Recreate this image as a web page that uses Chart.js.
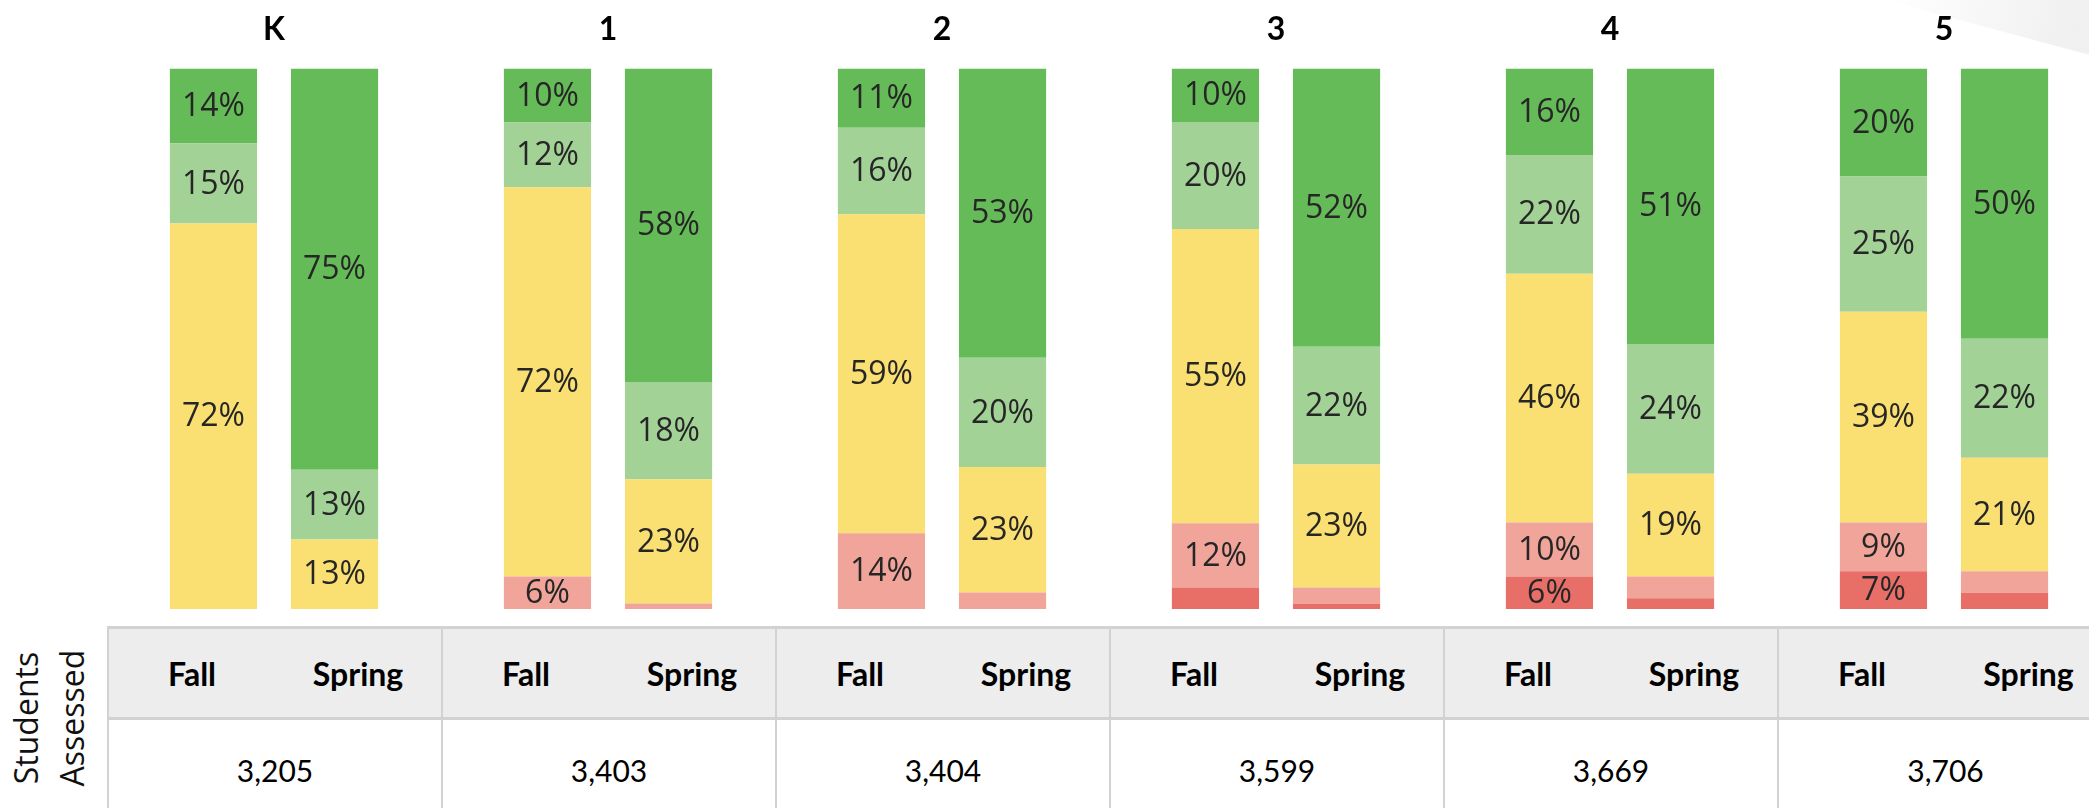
<!DOCTYPE html>
<html>
<head>
<meta charset="utf-8">
<script src="https://cdn.jsdelivr.net/npm/chart.js@4.4.1/dist/chart.umd.min.js"></script>
<style>
  html, body { margin: 0; padding: 0; background: #fff; overflow: hidden; width: 2089px; height: 808px; }
  #wrap { position: absolute; left: 0; top: -10px; width: 2111px; height: 619px; }
  #swoosh { position: absolute; left: 1885px; top: -70px; width: 420px; height: 70px;
    transform-origin: left bottom; transform: rotate(15deg);
    background: linear-gradient(to right, rgba(240,240,240,0), #f0f0f0 45%, #f4f4f4); }
  table.assess { position: absolute; left: 107px; top: 626px; border-collapse: collapse; table-layout: fixed; width: 2004px; }
  table.assess td { padding: 0; text-align: center; color: #000; }
  table.assess tr.head td { background: #ededed; height: 88px; font: bold 32px Lato, sans-serif; border-top: 3px solid #d2d2d2; border-bottom: 3px solid #d2d2d2; }
  table.assess tr.nums td { height: 100px; font: 30px Lato, sans-serif; padding-bottom: 4px; }
  table.assess td.gl { border-left: 2px solid #d2d2d2; }
  #side { position: absolute; left: 49px; top: 718px; transform: translate(-50%, -50%) rotate(-90deg);
    font: 32px "Open Sans", sans-serif; line-height: 46px; text-align: center; color: #111; white-space: nowrap; }
</style>
</head>
<body>
<div id="swoosh"></div>
<div id="wrap"><canvas id="chart" width="2111" height="619"></canvas></div>
<div id="side">Students<br>Assessed</div>
<table class="assess" id="assess"></table>
<script>
// grades and students assessed
const grades = ['K', '1', '2', '3', '4', '5'];
const studentsAssessed = [3205, 3403, 3404, 3599, 3669, 3706];

// Fall percentages (bottom to top)
const fallDarkRed = [0, 0, 0, 4, 6, 7];
const fallLightRed = [0, 6, 14, 12, 10, 9];
const fallYellow = [72, 72, 59, 55, 46, 39];
const fallLightGreen = [15, 12, 16, 20, 22, 25];
const fallDarkGreen = [14, 10, 11, 10, 16, 20];

// Spring percentages (bottom to top)
const springDarkRed = [0, 0, 0, 1, 2, 3];
const springLightRed = [0, 1, 3, 3, 4, 4];
const springYellow = [13, 23, 23, 23, 19, 21];
const springLightGreen = [13, 18, 20, 22, 24, 22];
const springDarkGreen = [75, 58, 53, 52, 51, 50];

const colors = ['#e86e68', '#f0a49a', '#fadf73', '#a3d297', '#66bb59'];
const fallSets = [fallDarkRed, fallLightRed, fallYellow, fallLightGreen, fallDarkGreen];
const springSets = [springDarkRed, springLightRed, springYellow, springLightGreen, springDarkGreen];

// 100% stacked: scale each bar to its own total
function totals(sets) {
    return grades.map((g, i) => sets.reduce((s, arr) => s + arr[i], 0));
}
const fallTotals = totals(fallSets);
const springTotals = totals(springSets);

const datasets = [];
fallSets.forEach((arr, k) => datasets.push({
    stack: 'Fall', raw: arr, backgroundColor: colors[k],
    data: arr.map((v, i) => v / fallTotals[i] * 100)
}));
springSets.forEach((arr, k) => datasets.push({
    stack: 'Spring', raw: arr, backgroundColor: colors[k],
    data: arr.map((v, i) => v / springTotals[i] * 100)
}));

// draw the % labels in the middle of each segment
const segmentLabels = {
    id: 'segmentLabels',
    afterDatasetsDraw(chart) {
        const ctx = chart.ctx;
        ctx.save();
        ctx.font = '32px "Open Sans", sans-serif';
        ctx.fillStyle = '#262626';
        ctx.textAlign = 'center';
        ctx.textBaseline = 'middle';
        chart.data.datasets.forEach((ds, di) => {
            chart.getDatasetMeta(di).data.forEach((bar, i) => {
                const v = ds.raw[i];
                if (v < 5) return;
                ctx.fillText(v + '%', bar.x, (bar.y + bar.base) / 2 + 1);
            });
        });
        ctx.restore();
    }
};

new Chart(document.getElementById('chart'), {
    type: 'bar',
    data: { labels: grades, datasets: datasets },
    options: {
        responsive: false,
        animation: false,
        categoryPercentage: 0.725,
        barPercentage: 0.72,
        layout: { padding: { left: 107, right: 0, top: 0, bottom: 0 } },
        plugins: { legend: { display: false }, tooltip: { enabled: false } },
        scales: {
            x: {
                stacked: true,
                position: 'top',
                grid: { display: false, drawTicks: false },
                border: { display: false },
                ticks: { color: '#000', padding: 20, font: { family: 'Lato', weight: 'bold', size: 32 } }
            },
            y: { stacked: true, min: 0, max: 100, display: false }
        }
    },
    plugins: [segmentLabels]
});

// table below the chart
const table = document.getElementById('assess');
table.innerHTML =
    '<colgroup>' + grades.map(() => '<col style="width:167px"><col style="width:167px">').join('') + '</colgroup>' +
    '<tr class="head">' + grades.map(() => '<td class="gl">Fall</td><td>Spring</td>').join('') + '</tr>' +
    '<tr class="nums">' + studentsAssessed.map(n => `<td class="gl" colspan="2">${n.toLocaleString('en-US')}</td>`).join('') + '</tr>';
</script>
</body>
</html>
